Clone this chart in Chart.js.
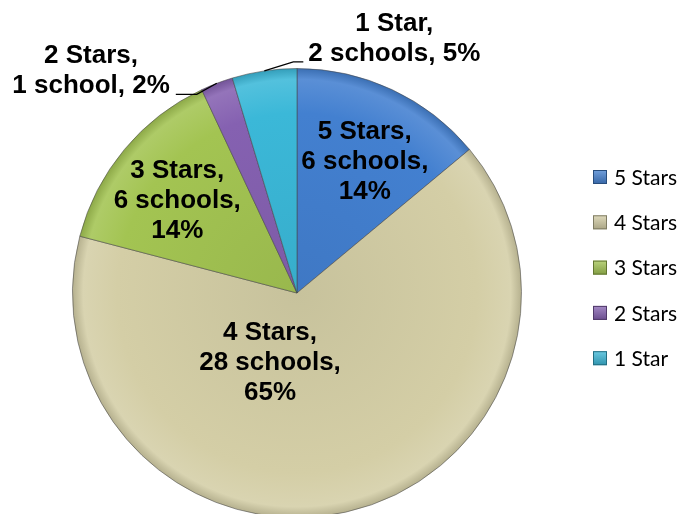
<!DOCTYPE html>
<html>
<head>
<meta charset="utf-8">
<script src="https://cdn.jsdelivr.net/npm/chart.js@4.4.1/dist/chart.umd.min.js"></script>
<style>
  html, body { margin: 0; padding: 0; background: #fff; overflow: hidden; }
  #wrap { width: 688px; height: 514px; overflow: hidden; }
</style>
</head>
<body>
<div id="wrap"><canvas id="chart1" width="688" height="520"></canvas></div>
<script>
// star ratings and number of schools
const categories = ['5 Stars', '4 Stars', '3 Stars', '2 Stars', '1 Star'];
const schools = [6, 28, 6, 1, 2];
const sliceColors = ['#4380d0', '#d4cea6', '#a3c452', '#8561b1', '#3bb8d8'];

// where excel put each data label (inside: fraction of radius + angle nudge, outside: leader line)
const labelSpots = [
    { inside: true, f: 0.656, da: 2.3 },
    { inside: true, f: 0.333, da: 33.7 },
    { inside: true, f: 0.672, da: -2.3 },
    { inside: false, elbow: [-20, 11], tail: -21, gap: 6 },
    { inside: false, elbow: [29, -9], tail: 10, gap: 5 }
];

const labelFont = 'bold 26px Arial, "Liberation Sans", sans-serif';
const lineH = 30;

function shade(hex, amt) {
    const n = parseInt(hex.slice(1), 16);
    let r = n >> 16, g = (n >> 8) & 255, b = n & 255;
    const t = amt < 0 ? 0 : 255, p = Math.abs(amt);
    r = Math.round(r + (t - r) * p);
    g = Math.round(g + (t - g) * p);
    b = Math.round(b + (t - b) * p);
    return 'rgb(' + r + ',' + g + ',' + b + ')';
}

function sliceFill(context) {
    const base = sliceColors[context.dataIndex];
    const area = context.chart.chartArea;
    if (!area) return base;
    const cx = (area.left + area.right) / 2, cy = (area.top + area.bottom) / 2;
    const r = Math.min(area.width, area.height) / 2;
    const g = context.chart.ctx.createRadialGradient(cx, cy, 0, cx, cy, r);
    g.addColorStop(0, shade(base, -0.06));
    g.addColorStop(0.8, base);
    g.addColorStop(0.95, shade(base, 0.12));
    g.addColorStop(1, shade(base, -0.15));
    return g;
}

function labelLines(i) {
    const total = schools.reduce((a, b) => a + b, 0);
    const n = schools[i];
    const pct = Math.round(n / total * 100) + '%';
    const sc = n + (n === 1 ? ' school,' : ' schools,');
    if (labelSpots[i].inside) return [categories[i] + ',', sc, pct];
    return [categories[i] + ',', sc + ' ' + pct];
}

const sliceLabels = {
    id: 'sliceLabels',
    afterDatasetsDraw(chart) {
        const ctx = chart.ctx;
        const meta = chart.getDatasetMeta(0);
        ctx.save();
        ctx.font = labelFont;
        ctx.fillStyle = '#000';
        ctx.textAlign = 'center';
        ctx.textBaseline = 'middle';
        meta.data.forEach((arc, i) => {
            const p = arc.getProps(['x', 'y', 'startAngle', 'endAngle', 'outerRadius'], true);
            const mid = (p.startAngle + p.endAngle) / 2;
            const spot = labelSpots[i];
            const lines = labelLines(i);
            if (spot.inside) {
                const a = mid + spot.da * Math.PI / 180;
                const lx = p.x + Math.cos(a) * p.outerRadius * spot.f;
                const ly = p.y + Math.sin(a) * p.outerRadius * spot.f;
                lines.forEach((t, k) => {
                    ctx.fillText(t, lx, ly + (k - (lines.length - 1) / 2) * lineH);
                });
            } else {
                const ex = p.x + Math.cos(mid) * p.outerRadius;
                const ey = p.y + Math.sin(mid) * p.outerRadius;
                const bx = ex + spot.elbow[0], by = ey + spot.elbow[1];
                const tx = bx + spot.tail;
                ctx.strokeStyle = '#000';
                ctx.lineWidth = 1.2;
                ctx.beginPath();
                ctx.moveTo(ex, ey);
                ctx.lineTo(bx, by);
                ctx.lineTo(tx, by);
                ctx.stroke();
                const w = Math.max(...lines.map(t => ctx.measureText(t).width));
                const cx = spot.tail < 0 ? tx - spot.gap - w / 2 : tx + spot.gap + w / 2;
                const lastY = by - 8;
                lines.forEach((t, k) => {
                    ctx.fillText(t, cx, lastY - (lines.length - 1 - k) * lineH);
                });
            }
        });
        ctx.restore();
    }
};

const sideLegend = {
    id: 'sideLegend',
    afterDraw(chart) {
        const ctx = chart.ctx;
        ctx.save();
        ctx.font = '21px Lato, "Open Sans", sans-serif';
        ctx.textAlign = 'left';
        ctx.textBaseline = 'middle';
        categories.forEach((name, i) => {
            const y = 177 + i * 45.3;
            const g = ctx.createLinearGradient(0, y - 7, 0, y + 7);
            g.addColorStop(0, shade(sliceColors[i], 0.25));
            g.addColorStop(1, shade(sliceColors[i], -0.2));
            ctx.fillStyle = g;
            ctx.fillRect(593, y - 7, 14, 14);
            ctx.strokeStyle = shade(sliceColors[i], -0.4);
            ctx.lineWidth = 1;
            ctx.strokeRect(593.5, y - 6.5, 13, 13);
            ctx.fillStyle = '#000';
            ctx.fillText(name, 614, y + 1);
        });
        ctx.restore();
    }
};

function drawPie() {
    const data = {
        labels: categories,
        datasets: [{
            data: schools,
            backgroundColor: sliceFill,
            borderColor: 'rgba(70,70,70,0.55)',
            borderWidth: 1
        }]
    };
    new Chart('chart1', {
        type: 'pie',
        data,
        options: {
            responsive: false,
            animation: false,
            layout: { padding: { left: 72, right: 166, top: 68, bottom: 2 } },
            plugins: {
                legend: { display: false },
                tooltip: { enabled: false }
            }
        },
        plugins: [sliceLabels, sideLegend]
    });
}

window.addEventListener('load', drawPie);
</script>
</body>
</html>
